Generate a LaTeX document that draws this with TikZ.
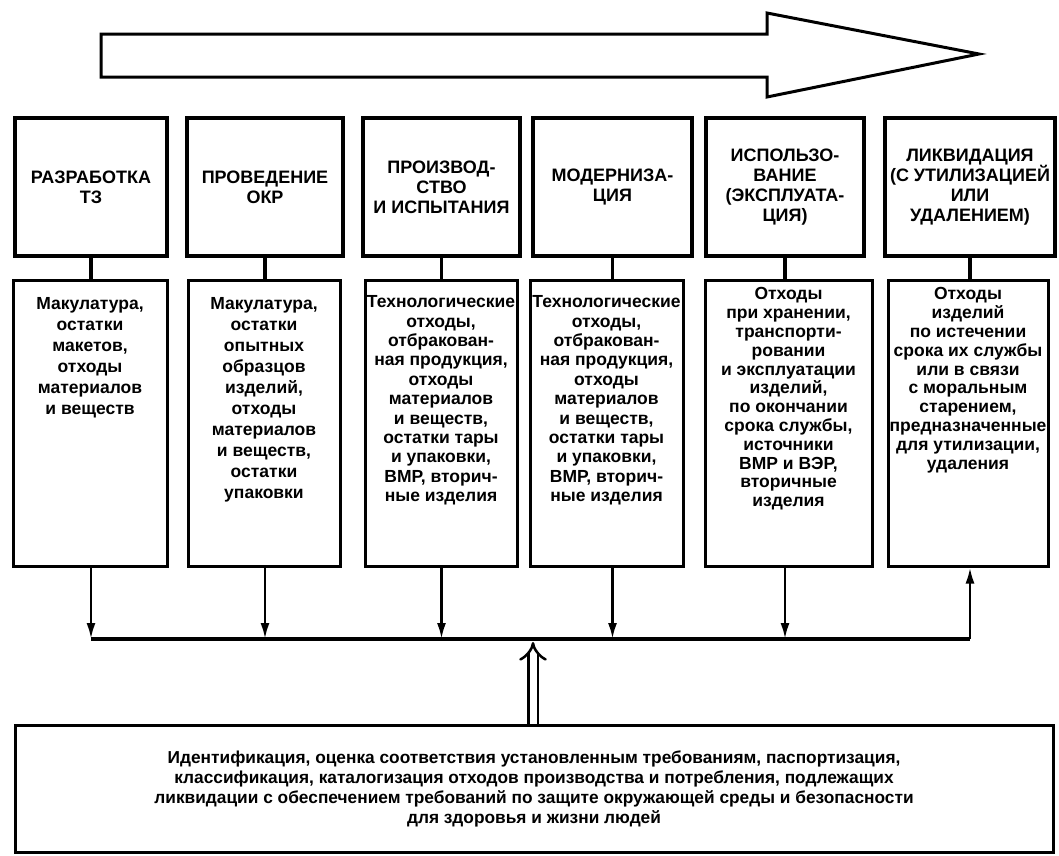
\documentclass[tikz,border=0pt]{standalone}
\usepackage{fontspec}
\setmainfont{Liberation Sans}
\usetikzlibrary{arrows.meta,positioning}

\tikzset{
  stagebox/.style={draw, line width=3.5pt, inner sep=0pt, align=center,
    font=\fontsize{18}{20}\selectfont\bfseries},
  wastebox/.style={draw, line width=3pt, inner sep=0pt},
  wastetext/.style={align=center, inner sep=0pt},
  link/.style={line width=3.5pt},
  flow/.style={line width=2.5pt, -{Latex[length=16pt,width=9pt]}},
  feed/.style={double, double distance=7pt, line width=2.5pt, -{Implies}},
}

\begin{document}
\begin{tikzpicture}[x=1pt,y=-1pt]
    \useasboundingbox (0,0) rectangle (1059,855);

    % life cycle direction
    \draw[line width=3pt, line join=miter] (101,34) -- (767,34) -- (767,13) -- (979,54)
        -- (767,97) -- (767,77) -- (101,77) -- cycle;

    % Stages of the life cycle
    \foreach \i/\xl/\xr/\txt in {1/15/167/{РАЗРАБОТКА\\ТЗ},
        2/187/343/{ПРОВЕДЕНИЕ\\ОКР},
        3/363/520/{ПРОИЗВОД-\\СТВО\\И ИСПЫТАНИЯ},
        4/533/692/{МОДЕРНИЗА-\\ЦИЯ},
        5/706/864/{ИСПОЛЬЗО-\\ВАНИЕ\\(ЭКСПЛУАТА-\\ЦИЯ)},
        6/885/1055/{ЛИКВИДАЦИЯ\\(С УТИЛИЗАЦИЕЙ\\ИЛИ\\УДАЛЕНИЕМ)}} {
        \pgfmathsetmacro\w{\xr-\xl}
        \node[stagebox, minimum width=\w pt, minimum height=138pt] (st\i) at ({(\xl+\xr)/2},187) {\txt};
    }

    % Waste of each stage
    \foreach \i/\xl/\xr/\lead/\dy/\txt in {1/13/167/21/19/{Макулатура,\\остатки\\макетов,\\отходы\\материалов\\и веществ},
        2/188/340/21/19/{Макулатура,\\остатки\\опытных\\образцов\\изделий,\\отходы\\материалов\\и веществ,\\остатки\\упаковки},
        3/365/517/19.4/17/{Технологические\\отходы,\\отбракован-\\ная продукция,\\отходы\\материалов\\и веществ,\\остатки тары\\и упаковки,\\ВМР, вторич-\\ные изделия},
        4/530/683/19.4/17/{Технологические\\отходы,\\отбракован-\\ная продукция,\\отходы\\материалов\\и веществ,\\остатки тары\\и упаковки,\\ВМР, вторич-\\ные изделия},
        5/705/872/18.8/9/{Отходы\\при хранении,\\транспорти-\\ровании\\и эксплуатации\\изделий,\\по окончании\\срока службы,\\источники\\ВМР и ВЭР,\\вторичные\\изделия},
        6/888/1048/18.8/9/{Отходы\\изделий\\по истечении\\срока их службы\\или в связи\\с моральным\\старением,\\предназначенные\\для утилизации,\\удаления}} {
        \pgfmathsetmacro\w{\xr-\xl}
        \node[wastebox, minimum width=\w pt, minimum height=286pt] (ws\i) at ({(\xl+\xr)/2},423) {};
        \node[wastetext, font=\fontsize{17.5}{\lead}\selectfont\bfseries,
            below=\dy pt of ws\i.north] (wt\i) {\txt};
    }

    % stage -> waste
    \foreach \i in {1,...,6}
        \draw[link] (st\i.south) -- (st\i.south |- ws\i.north);

    % collecting line
    \foreach \i in {1,...,6}
        \coordinate (b\i) at (st\i.south |- 0,639);
    \draw[line width=4.5pt] (b1) -- (b6);
    \foreach \i in {1,...,5}
        \draw[flow] (ws\i.south -| b\i) -- (b\i);
    \draw[flow] (b6) -- (ws6.south -| b6);

    % Identification
    \node[wastebox, minimum width=1038pt, minimum height=127pt, align=center,
        font=\fontsize{17.3}{20}\selectfont\bfseries] (ident) at (534,788.5)
        {Идентификация, оценка соответствия установленным требованиям, паспортизация,\\
         классификация, каталогизация отходов производства и потребления, подлежащих\\
         ликвидации с обеспечением требований по защите окружающей среды и безопасности\\
         для здоровья и жизни людей};
    \coordinate (bmid) at (533,642);
    \draw[feed] (ident.north -| bmid) -- (bmid);
\end{tikzpicture}
\end{document}
